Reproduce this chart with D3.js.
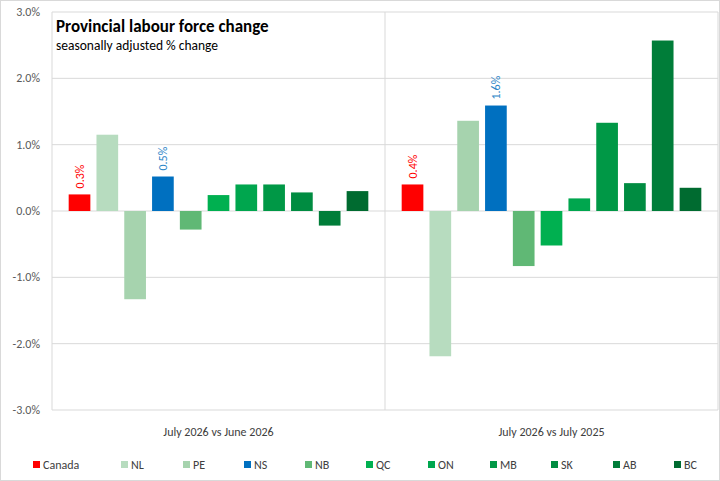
<!DOCTYPE html>
<html>
<head>
<script src="https://cdn.jsdelivr.net/npm/d3@7"></script>
<style>body{margin:0;background:#fff;font-family:Calibri,Carlito,"Liberation Sans",Arial,sans-serif}</style>
</head>
<body>
<svg id="chart" width="720" height="481"></svg>
<script>
const groups = ["July 2026 vs June 2026", "July 2026 vs July 2025"];
const regions = ["Canada", "NL", "PE", "NS", "NB", "QC", "ON", "MB", "SK", "AB", "BC"];
const monthly = [0.25, 1.15, -1.33, 0.52, -0.28, 0.24, 0.40, 0.40, 0.28, -0.22, 0.30];
const yearly = [0.40, -2.19, 1.36, 1.59, -0.83, -0.52, 0.19, 1.33, 0.42, 2.57, 0.35];
const colors = ["#ff0000", "#b7dcbf", "#a6d3ae", "#0070c0", "#60b875", "#00b050", "#00a64e", "#009846", "#008c41", "#007d39", "#006b30"];
const labelled = { Canada: "#ff0000", NS: "#2e86c8" };
const yTicks = [-3, -2, -1, 0, 1, 2, 3];

const svg = d3.select("#chart");
const m = { left: 52, right: 2, top: 12, bottom: 71 };
const W = 720, H = 481;

svg.append("rect").attr("x", 0.5).attr("y", 0.5).attr("width", W - 1).attr("height", H - 1)
  .attr("fill", "#fff").attr("stroke", "#d9d9d9");

const x0 = d3.scaleBand().domain(groups).range([m.left, W - m.right]);
const x1 = d3.scaleBand().domain(regions).range([0, x0.bandwidth()]).paddingInner(0.22).paddingOuter(0.6);
const y = d3.scaleLinear().domain([-3, 3]).range([H - m.bottom, m.top]);

// gridlines
svg.append("g").selectAll("line").data(yTicks).join("line")
  .attr("x1", m.left).attr("x2", W - m.right)
  .attr("y1", d => y(d)).attr("y2", d => y(d))
  .attr("stroke", "#d9d9d9");
// group separators
svg.append("g").selectAll("line").data([m.left, x0(groups[1]), W - m.right]).join("line")
  .attr("x1", d => d).attr("x2", d => d).attr("y1", m.top).attr("y2", H - m.bottom)
  .attr("stroke", "#d9d9d9");

svg.append("g").selectAll("text").data(yTicks).join("text")
  .attr("x", m.left - 12).attr("y", d => y(d) + 4).attr("text-anchor", "end")
  .attr("font-size", 12).attr("fill", "#595959").text(d => d.toFixed(1) + "%");

const series = [monthly, yearly];
groups.forEach((g, gi) => {
  const gEl = svg.append("g").attr("transform", `translate(${x0(g)},0)`);
  const data = regions.map((r, i) => ({ r, v: series[gi][i], c: colors[i] }));
  gEl.selectAll("rect").data(data).join("rect")
    .attr("x", d => x1(d.r)).attr("width", x1.bandwidth())
    .attr("y", d => y(Math.max(0, d.v))).attr("height", d => Math.abs(y(d.v) - y(0)))
    .attr("fill", d => d.c);
  gEl.selectAll("text").data(data.filter(d => labelled[d.r])).join("text")
    .attr("transform", d => `translate(${x1(d.r) + x1.bandwidth() / 2 + 4},${y(d.v) - 6}) rotate(-90)`)
    .attr("font-size", 12).attr("fill", d => labelled[d.r])
    .text(d => d.v.toFixed(1) + "%");
  svg.append("text").attr("x", x0(g) + x0.bandwidth() / 2).attr("y", 436)
    .attr("text-anchor", "middle").attr("font-size", 12).attr("fill", "#404040").text(g);
});

svg.append("text").attr("x", 56).attr("y", 32).attr("font-size", 17).attr("font-weight", "bold")
  .attr("fill", "#000").text("Provincial labour force change");
svg.append("text").attr("x", 56).attr("y", 50).attr("font-size", 13.5)
  .attr("fill", "#000").text("seasonally adjusted % change");

// legend
const lx = [33, 121, 183, 244, 305, 366, 428, 490, 551, 613, 674];
const leg = svg.append("g").selectAll("g").data(regions).join("g")
  .attr("transform", (d, i) => `translate(${lx[i]},470)`);
leg.append("rect").attr("x", 0).attr("y", -9).attr("width", 7).attr("height", 7)
  .attr("fill", (d, i) => colors[i]);
leg.append("text").attr("x", 10).attr("y", -1).attr("font-size", 12).attr("fill", "#404040").text(d => d);
</script>
</body>
</html>
